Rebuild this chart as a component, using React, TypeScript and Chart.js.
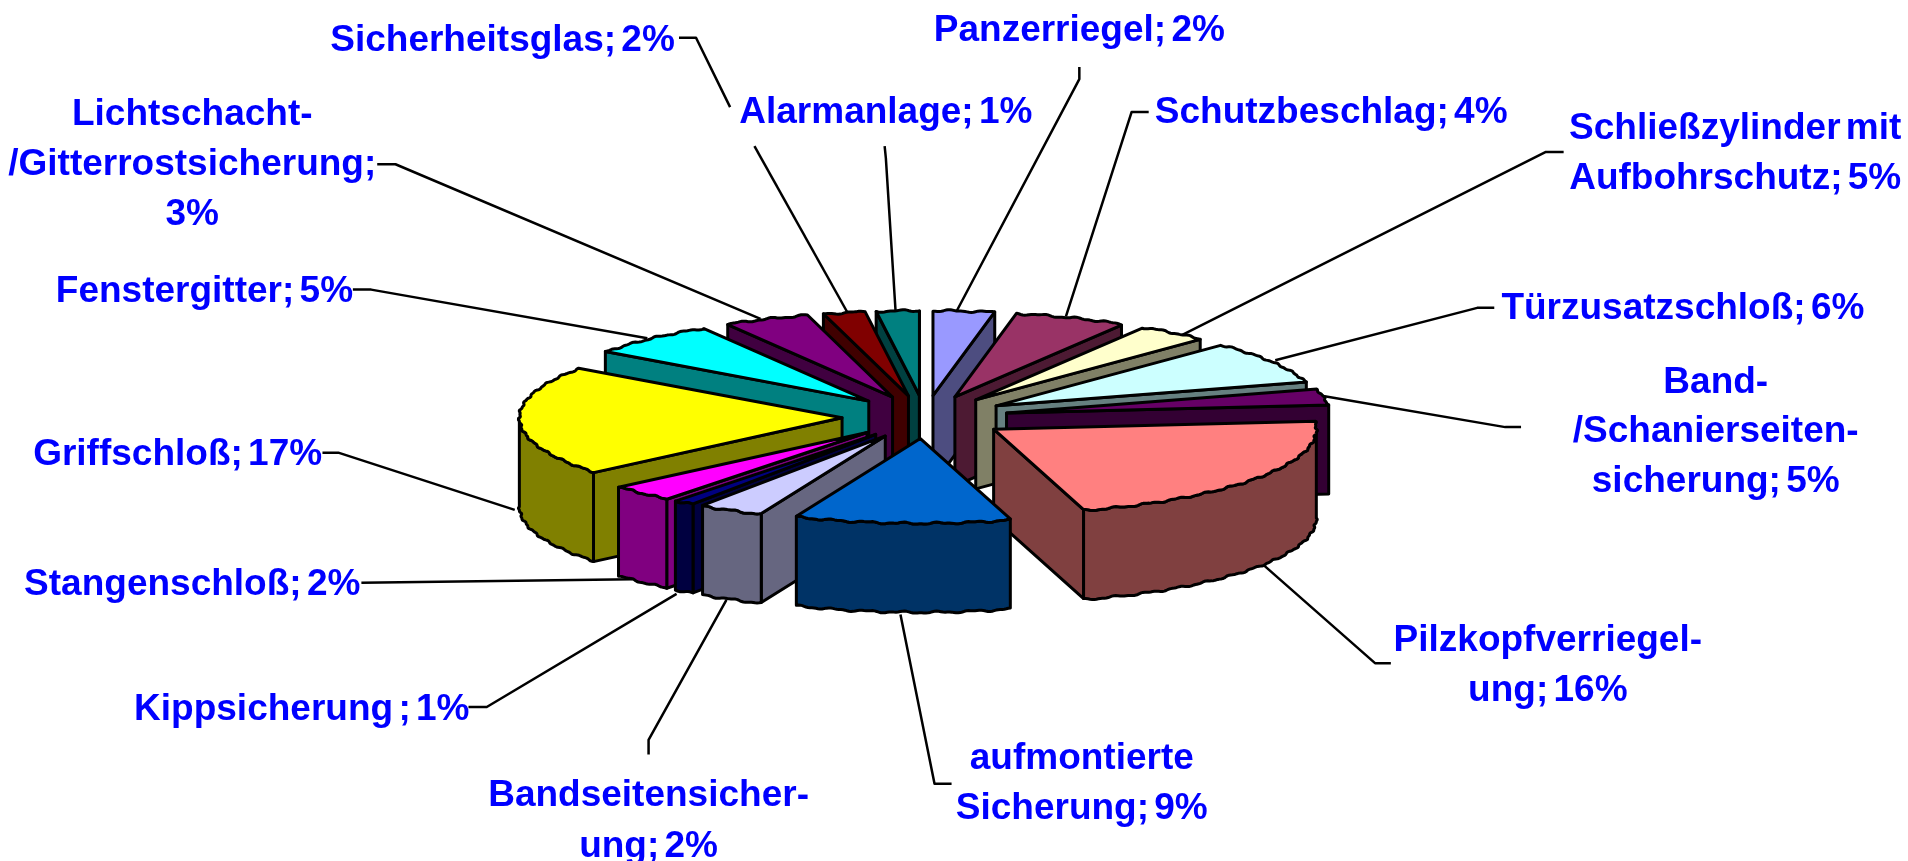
import React, { useEffect, useRef } from "react";
import { Chart, registerables } from "chart.js";

Chart.register(...registerables);

// Printed on the chart's labels (percent, as shown in the picture)
const categories = [
  "Panzerriegel", "Schutzbeschlag", "Schließzylinder mit Aufbohrschutz", "Türzusatzschloß",
  "Band-/Schanierseitensicherung", "Pilzkopfverriegelung", "aufmontierte Sicherung", "Bandseitensicherung",
  "Kippsicherung", "Stangenschloß", "Griffschloß", "Fenstergitter",
  "Lichtschacht-/Gitterrostsicherung", "Sicherheitsglas", "Alarmanlage",
];
const printedPercents = [2, 4, 5, 6, 5, 16, 9, 2, 1, 2, 17, 5, 3, 2, 1];
// Slice sizes as they appear in the picture (its perspective distorts them relative to the printed numbers)
const drawnShares = [3.06, 5.6, 3.6, 8.2, 3.06, 21.95, 10.8, 3.3, 1.05, 3.3, 20.9, 6.6, 4.3, 2.1, 2.14];

const topColors = ["#9999FF", "#993366", "#FFFFCC", "#CCFFFF", "#660066", "#FF8080", "#0066CC", "#CCCCFF", "#000080", "#FF00FF", "#FFFF00", "#00FFFF", "#800080", "#800000", "#008080"];
const wallColors = ["#4D4D80", "#4D1A33", "#808066", "#668080", "#330033", "#804040", "#003366", "#666680", "#000040", "#800080", "#808000", "#008080", "#400040", "#400000", "#004040"];

const S = 1908 / 1568;
const TILT = 0.26;
const EXPLODE = 83;
const DEPTH = 89;
const RADIUS = 321.5;

type Lbl = { lines: string[]; x: number; y: number[] };
const labelLayout: Lbl[] = [
  { lines: ["Panzerriegel; 2%"], x: 887, y: [34] },
  { lines: ["Schutzbeschlag; 4%"], x: 1094, y: [101] },
  { lines: ["Schließzylinder mit", "Aufbohrschutz; 5%"], x: 1426, y: [114, 155] },
  { lines: ["Türzusatzschloß; 6%"], x: 1383, y: [262] },
  { lines: ["Band-", "/Schanierseiten-", "sicherung; 5%"], x: 1410, y: [323, 363, 404] },
  { lines: ["Pilzkopfverriegel-", "ung; 16%"], x: 1272, y: [535, 576] },
  { lines: ["aufmontierte", "Sicherung; 9%"], x: 889, y: [632, 673] },
  { lines: ["Bandseitensicher-", "ung; 2%"], x: 533, y: [662, 704] },
  { lines: ["Kippsicherung ; 1%"], x: 248, y: [592] },
  { lines: ["Stangenschloß; 2%"], x: 158, y: [489] },
  { lines: ["Griffschloß; 17%"], x: 146, y: [382] },
  { lines: ["Fenstergitter; 5%"], x: 168, y: [248] },
  { lines: ["Lichtschacht-", "/Gitterrostsicherung;", "3%"], x: 158, y: [103, 144, 185] },
  { lines: ["Sicherheitsglas; 2%"], x: 413, y: [42] },
  { lines: ["Alarmanlage; 1%"], x: 728, y: [101] },
];

const leaderLines: number[][][] = [
  [[558, 31], [572, 31], [600, 88]],
  [[620, 120], [696, 256]],
  [[727, 120], [728, 130], [736, 256]],
  [[887, 55], [887, 65], [786, 256]],
  [[944, 92], [930, 92], [876, 260]],
  [[1285, 125], [1270, 125], [970, 276]],
  [[1228, 253], [1214, 253], [1048, 296]],
  [[1250, 351], [1237, 351], [1085, 325]],
  [[1143, 545], [1130, 545], [1038, 464]],
  [[782, 644], [768, 644], [740, 505]],
  [[533, 620], [533, 608], [597, 493]],
  [[385, 581], [400, 581], [556, 488]],
  [[297, 479], [520, 476]],
  [[265, 372], [278, 372], [423, 419]],
  [[290, 238], [305, 238], [532, 278]],
  [[310, 135], [325, 135], [625, 262]],
];

// the reference's rim is slightly jagged: a small always-outward ripple in screen pixels
const rimRipple = (t: number) => 1.2 + 0.8 * Math.sin(57 * t) + 0.4 * Math.sin(131 * t);

const pie3d = {
  id: "pie3d",
  beforeDatasetDraw(chart: any, args: any) {
    const ctx: CanvasRenderingContext2D = chart.ctx;
    ctx.save();
    ctx.strokeStyle = "#000";
    ctx.lineWidth = 2.5;
    ctx.lineJoin = "round";
    for (const line of leaderLines) {
      ctx.beginPath();
      line.forEach(([x, y], i) => (i ? ctx.lineTo(x * S, y * S) : ctx.moveTo(x * S, y * S)));
      ctx.stroke();
    }
    const arcs = args.meta.data.map((arc: any, i: number) => ({ arc, i, mid: (arc.startAngle + arc.endAngle) / 2 }));
    arcs.sort((p: any, q: any) => Math.sin(p.mid) - Math.sin(q.mid));
    ctx.lineWidth = 3;
    for (const { arc, i, mid } of arcs) {
      const { x: cx, y: cy, startAngle: a, endAngle: b, outerRadius: r } = arc;
      const ox = cx + Math.cos(mid) * EXPLODE;
      const oy = cy + Math.sin(mid) * EXPLODE * TILT;
      const pt = (t: number, z = 0): [number, number] => {
        const w = rimRipple(t);
        return [ox + (r + w) * Math.cos(t), oy + (TILT * r + w) * Math.sin(t) + z];
      };
      const poly = (pts: [number, number][], fill?: string) => {
        ctx.beginPath();
        pts.forEach((p, n) => (n ? ctx.lineTo(p[0], p[1]) : ctx.moveTo(p[0], p[1])));
        ctx.closePath();
        if (fill) { ctx.fillStyle = fill; ctx.fill(); }
        ctx.stroke();
      };
      const wall = wallColors[i];
      if (Math.cos(a) < 0) poly([[ox, oy], pt(a), pt(a, DEPTH), [ox, oy + DEPTH]], wall);
      if (Math.cos(b) > 0) poly([[ox, oy], pt(b), pt(b, DEPTH), [ox, oy + DEPTH]], wall);
      const from = Math.max(a, 0), to = Math.min(b, Math.PI);
      if (to > from) {
        const n = Math.max(2, Math.ceil((to - from) * 150));
        const upper: [number, number][] = [];
        const lower: [number, number][] = [];
        for (let j = 0; j <= n; j++) {
          const t = from + ((to - from) * j) / n;
          upper.push(pt(t));
          lower.unshift(pt(t, DEPTH));
        }
        poly([...upper, ...lower], wall);
      }
      // top face: the library's own arc element, tilted and moved outwards
      ctx.save();
      ctx.translate(ox, oy);
      ctx.scale(1, TILT);
      ctx.translate(-cx, -cy);
      arc.draw(ctx);
      ctx.restore();
      const n = Math.max(2, Math.ceil((b - a) * 150));
      const edge: [number, number][] = [[ox, oy]];
      for (let j = 0; j <= n; j++) edge.push(pt(a + ((b - a) * j) / n));
      poly(edge, topColors[i]);
    }
    ctx.restore();
    return false;
  },
  afterDatasetsDraw(chart: any) {
    const ctx: any = chart.ctx;
    ctx.save();
    ctx.fillStyle = "#0000FF";
    ctx.font = "bold 37px 'Liberation Sans'";
    ctx.wordSpacing = "-5px";
    ctx.textAlign = "center";
    ctx.textBaseline = "alphabetic";
    for (const l of labelLayout) {
      l.lines.forEach((t, i) => ctx.fillText(t, l.x * S, l.y[i] * S));
    }
    ctx.restore();
  },
};

export default function App() {
  const ref = useRef<HTMLCanvasElement>(null);
  useEffect(() => {
    const chart = new Chart(ref.current!, {
      type: "pie",
      data: {
        labels: categories.map((c, i) => `${c}; ${printedPercents[i]}%`),
        datasets: [{ data: drawnShares, backgroundColor: topColors, borderWidth: 0 }],
      },
      options: {
        animation: false,
        responsive: false,
        radius: RADIUS,
        layout: { padding: { left: 0, right: 58, top: 0, bottom: 27 } },
        plugins: { legend: { display: false }, tooltip: { enabled: false } },
      } as any,
      plugins: [pie3d as any],
    });
    return () => chart.destroy();
  }, []);
  return (
    <canvas
      ref={ref}
      width={1908}
      height={861}
      style={{ position: "absolute", left: 0, top: 0, width: 1908, height: 861, display: "block" }}
    />
  );
}
